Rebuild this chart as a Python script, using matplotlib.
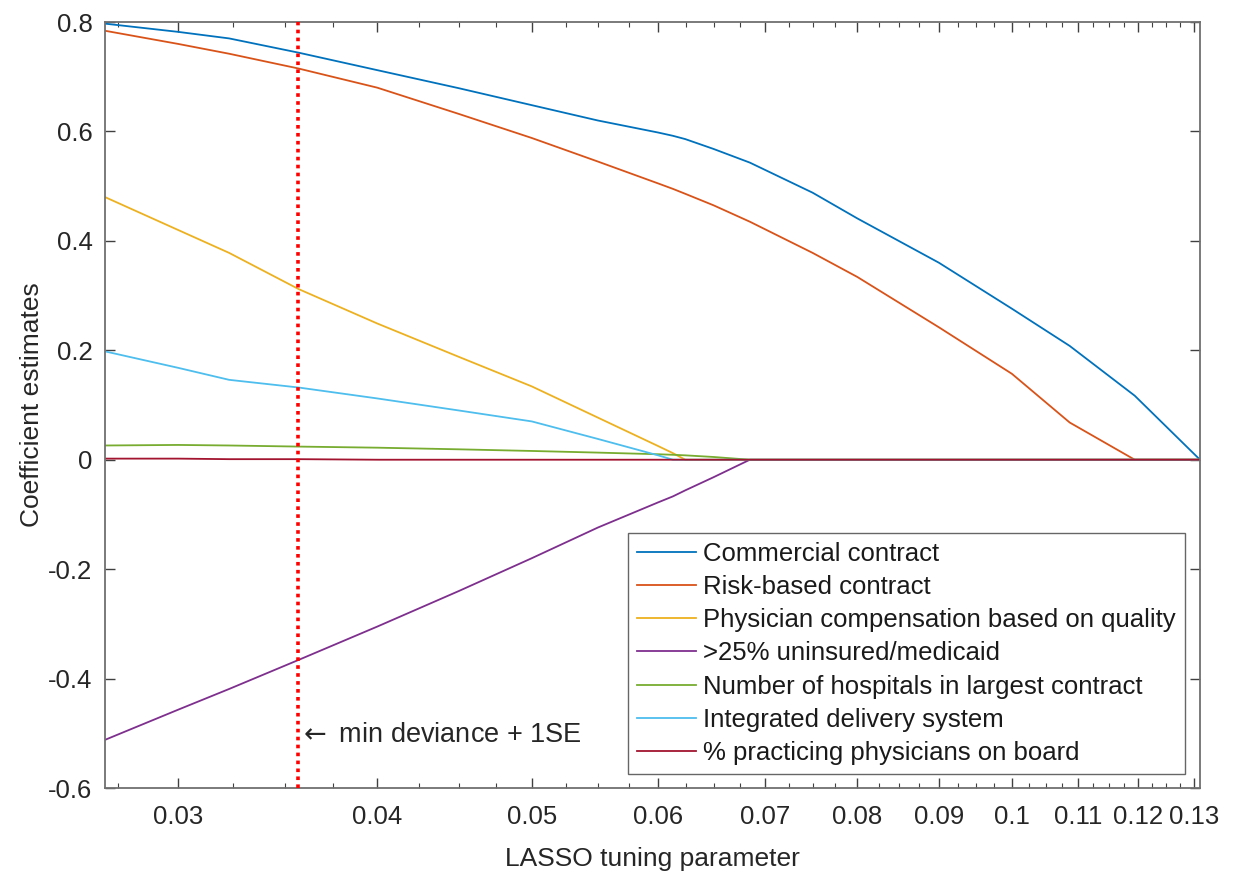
import matplotlib
matplotlib.use("Agg")
import matplotlib.pyplot as plt
from matplotlib.ticker import FixedLocator, FixedFormatter, NullFormatter

plt.rcParams['font.family'] = ['Liberation Sans', 'DejaVu Sans']
plt.rcParams['axes.unicode_minus'] = False
plt.rcParams['mathtext.fontset'] = 'dejavusans'

# LASSO tuning parameter (lambda) grid
lam = [0.027, 0.030, 0.0323, 0.0357, 0.040, 0.045, 0.050, 0.055, 0.060, 0.0613,
       0.0624, 0.065, 0.0685, 0.075, 0.080, 0.090, 0.100, 0.1087, 0.1194, 0.1312]

commercial = [0.797, 0.782, 0.770, 0.744, 0.712, 0.679, 0.648, 0.620, 0.598, 0.592,
              0.586, 0.568, 0.543, 0.488, 0.441, 0.360, 0.276, 0.208, 0.117, 0.0]
risk_based = [0.784, 0.760, 0.742, 0.715, 0.680, 0.632, 0.588, 0.545, 0.505, 0.495,
              0.486, 0.465, 0.435, 0.378, 0.334, 0.242, 0.157, 0.068, 0.0, 0.0]
phys_comp = [0.480, 0.420, 0.378, 0.312, 0.249, 0.188, 0.134, 0.077, 0.025, 0.012,
             0.0, 0.0, 0.0, 0.0, 0.0, 0.0, 0.0, 0.0, 0.0, 0.0]
uninsured = [-0.512, -0.457, -0.419, -0.366, -0.305, -0.240, -0.180, -0.124, -0.078, -0.067,
             -0.056, -0.032, 0.0, 0.0, 0.0, 0.0, 0.0, 0.0, 0.0, 0.0]
n_hospitals = [0.026, 0.027, 0.026, 0.024, 0.022, 0.019, 0.016, 0.013, 0.010, 0.009,
               0.008, 0.005, 0.0, 0.0, 0.0, 0.0, 0.0, 0.0, 0.0, 0.0]
integrated = [0.198, 0.168, 0.146, 0.132, 0.112, 0.090, 0.070, 0.038, 0.008, 0.0,
              0.0, 0.0, 0.0, 0.0, 0.0, 0.0, 0.0, 0.0, 0.0, 0.0]
pct_board = [0.002, 0.002, 0.001, 0.001, 0.0, 0.0, 0.0, 0.0, 0.0, 0.0,
             0.0, 0.0, 0.0, 0.0, 0.0, 0.0, 0.0, 0.0, 0.0, 0.0]

series = [commercial, risk_based, phys_comp, uninsured, n_hospitals, integrated, pct_board]
labels = ["Commercial contract", "Risk-based contract",
          "Physician compensation based on quality", ">25% uninsured/medicaid",
          "Number of hospitals in largest contract", "Integrated delivery system",
          "% practicing physicians on board"]
colors = ["#0072BD", "#D95319", "#EDB120", "#7E2F8E", "#77AC30", "#4DBEEE", "#A2142F"]

lambda_1se = 0.0357

xticks = [0.03, 0.04, 0.05, 0.06, 0.07, 0.08, 0.09, 0.1, 0.11, 0.12, 0.13]
xticklabels = ["0.03", "0.04", "0.05", "0.06", "0.07", "0.08", "0.09", "0.1", "0.11", "0.12", "0.13"]
yticks = [-0.6, -0.4, -0.2, 0, 0.2, 0.4, 0.6, 0.8]
yticklabels = ["-0.6", "-0.4", "-0.2", "0", "0.2", "0.4", "0.6", "0.8"]

FS = 18.5

fig = plt.figure(figsize=(12.38, 8.77), dpi=100)
ax = fig.add_axes([105/1238, 1 - 788/877, (1200 - 105)/1238, (788 - 22)/877])

for s, lab, c in zip(series, labels, colors):
    ax.plot(lam, s, color=c, lw=1.3, label=lab)

ax.axvline(lambda_1se, color="#FF0000", lw=2.6, linestyle=(0, (1, 1.2)), zorder=5)
ax.text(lambda_1se, -0.503, r"$\leftarrow$ min deviance + 1SE", fontsize=19.5,
        va="center", ha="left", color="#262626")

ax.set_xscale("log")
ax.set_xlim(0.0270, 0.1312)
ax.set_ylim(-0.6, 0.8)

ax.xaxis.set_major_locator(FixedLocator(xticks))
ax.xaxis.set_major_formatter(FixedFormatter(xticklabels))
minor = [round(0.0275 + 0.0025 * i, 5) for i in range(42)]
minor = [m for m in minor if all(abs(m - t) > 1e-6 for t in xticks) and m < 0.1312]
ax.xaxis.set_minor_locator(FixedLocator(minor))
ax.xaxis.set_minor_formatter(NullFormatter())
ax.yaxis.set_major_locator(FixedLocator(yticks))
ax.yaxis.set_major_formatter(FixedFormatter(yticklabels))

ax.tick_params(axis="both", which="major", direction="in", length=7, width=1,
               top=True, right=True, labelsize=FS, colors="#404040",
               labelcolor="#262626")
ax.tick_params(axis="x", which="major", pad=12)
ax.tick_params(axis="y", which="major", pad=9)
ax.tick_params(axis="both", which="minor", direction="in", length=3.5, width=0.8,
               top=True, right=True, colors="#404040")
ax.tick_params(axis="y", which="minor", left=False, right=False)
for sp in ax.spines.values():
    sp.set_color("#707070")
    sp.set_linewidth(1.3)

ax.set_xlabel("LASSO tuning parameter", fontsize=FS + 0.5, color="#262626", labelpad=13)
ax.set_ylabel("Coefficient estimates", fontsize=FS + 0.5, color="#262626", labelpad=3)

leg = ax.legend(loc="lower right", bbox_to_anchor=(1185/1238, 1 - 774/877),
                bbox_transform=fig.transFigure, fontsize=FS, frameon=True,
                fancybox=False, edgecolor="#404040", handlelength=2.3,
                handletextpad=0.3, labelspacing=0.36, borderpad=0.35,
                borderaxespad=0)
leg.get_frame().set_linewidth(1.0)
for t in leg.get_texts():
    t.set_color("#1a1a1a")

fig.savefig("out.png", dpi=100)
